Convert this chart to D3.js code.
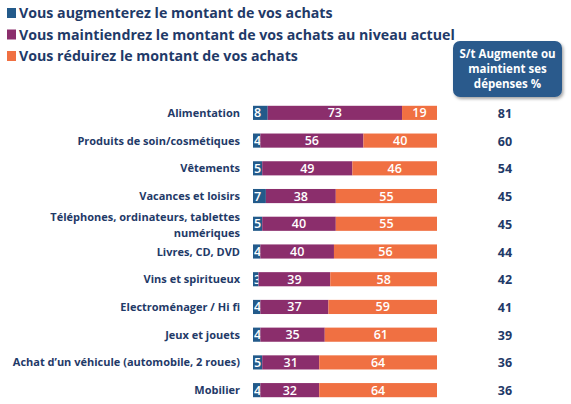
<!DOCTYPE html>
<html><head><meta charset="utf-8">
<script src="https://cdn.jsdelivr.net/npm/d3@7"></script>
<style>body{margin:0;background:#fff}svg{display:block}</style>
</head><body>
<script>
const categories = ["Alimentation","Produits de soin/cosmétiques","Vêtements","Vacances et loisirs","Téléphones, ordinateurs, tablettes\nnumériques","Livres, CD, DVD","Vins et spiritueux","Electroménager / Hi fi","Jeux et jouets","Achat d’un véhicule (automobile, 2 roues)","Mobilier"];
const augmente = [8,4,5,7,5,4,3,4,4,5,4];
const maintient = [73,56,49,38,40,40,39,37,35,31,32];
const reduit = [19,40,46,55,55,56,58,59,61,64,64];
const total = [81,60,54,45,45,44,42,41,39,36,36];
const seriesNames = ["Vous augmenterez le montant de vos achats","Vous maintiendrez le montant de vos achats au niveau actuel","Vous réduirez le montant de vos achats"];
const colors = ["#235a8a","#8b2e6c","#f07042"];
const navy = "#1f3a68";

const W=571,H=404;
const svg=d3.select("body").append("svg").attr("width",W).attr("height",H);
const font="'Open Sans', sans-serif";

// legend
const lg=svg.append("g");
seriesNames.forEach((n,i)=>{
  const y=14+i*21.5;
  lg.append("rect").attr("x",7).attr("y",y-6).attr("width",9).attr("height",10).attr("fill",colors[i]);
  lg.append("text").attr("x",19).attr("y",y+4).text(n).attr("font-family",font).attr("font-weight",700).attr("font-size",14.2).attr("fill",navy).attr("textLength",null);
});

// header box
const defs=svg.append("defs");
const f=defs.append("filter").attr("id","sh").attr("x","-10%").attr("y","-10%").attr("width","130%").attr("height","140%");
f.append("feDropShadow").attr("dx",1.5).attr("dy",2).attr("stdDeviation",1.5).attr("flood-color","#000").attr("flood-opacity",0.35);
svg.append("rect").attr("x",453).attr("y",41).attr("width",109).attr("height",56).attr("rx",7).attr("fill","#2b5a8c").attr("filter","url(#sh)");
["S/t Augmente ou","maintient ses","dépenses %"].forEach((t,i)=>{
  svg.append("text").attr("x",507.5).attr("y",58+i*15).attr("text-anchor","middle").text(t).attr("font-family",font).attr("font-weight",700).attr("font-size",11.5).attr("fill","#fff");
});

const x=d3.scaleLinear().domain([0,100]).range([253,437]);
const y=d3.scaleBand().domain(d3.range(categories.length)).range([99,404]).paddingInner(0.49).paddingOuter(0.245);

const data=categories.map((c,i)=>({c,vals:[augmente[i],maintient[i],reduit[i]],t:total[i]}));
const stack=d3.stack().keys([0,1,2]).value((d,k)=>d.vals[k])(data);

stack.forEach((s,k)=>{
  const g=svg.append("g");
  g.selectAll("rect").data(s).join("rect")
    .attr("x",d=>x(d[0])).attr("width",d=>x(d[1])-x(d[0]))
    .attr("y",(d,i)=>y(i)).attr("height",y.bandwidth()).attr("fill",colors[k]);
  g.selectAll("text").data(s).join("text")
    .attr("x",d=>k===0? x(d[0])+1 : (x(d[0])+x(d[1]))/2)
    .attr("text-anchor",k===0?"start":"middle")
    .attr("y",(d,i)=>y(i)+y.bandwidth()/2+4.5)
    .text(d=>d[1]-d[0]).attr("font-family",font).attr("font-weight",600).attr("font-size",12.5).attr("fill","#fff");
});

// category labels
data.forEach((d,i)=>{
  const lines=d.c.split("\n");
  const cy=y(i)+y.bandwidth()/2;
  const t=svg.append("text").attr("text-anchor","end").attr("font-family",font).attr("font-weight",700).attr("font-size",11).attr("fill",navy);
  lines.forEach((l,j)=>{
    t.append("tspan").attr("x",240).attr("y",cy+4-(lines.length-1)*7+j*16).text(l);
  });
  svg.append("text").attr("x",505).attr("y",cy+5).attr("text-anchor","middle").text(d.t).attr("font-family",font).attr("font-weight",700).attr("font-size",12.5).attr("fill",navy);
});
</script>
</body></html>
